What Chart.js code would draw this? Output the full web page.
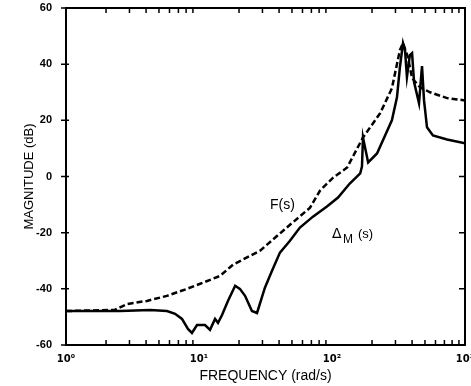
<!DOCTYPE html>
<html>
<head>
<meta charset="utf-8">
<script src="https://cdn.jsdelivr.net/npm/chart.js@4/dist/chart.umd.min.js"></script>
<style>
  html, body { margin: 0; padding: 0; background: #fff; }
  #wrap { width: 471px; height: 386px; }
</style>
</head>
<body>
<div id="wrap"><canvas id="bode"></canvas></div>
<script>
// frequency (rad/s) and magnitude (dB)
const deltaFreq = [1, 2.55, 4.29, 5.74, 6.61, 7.45, 8.26, 8.85, 9.66, 11.1, 12.1, 13.2, 13.9, 14.9,
  16.5, 18.7, 20.3, 22.2, 25.0, 27.3, 31.3, 35.4, 40.6, 48.3, 57.4, 71.9, 91.6, 111, 136, 163,
  168, 171, 187, 218, 282, 308, 324, 342, 354, 366, 385, 400, 414, 451, 475, 492, 518, 574, 733, 1000];
const deltaMag = [-47.9, -47.9, -47.5, -47.9, -48.9, -50.7, -54.3, -55.7, -52.9, -52.9, -54.6, -50.7, -52.1, -49.3,
  -44.3, -38.9, -40, -42.5, -47.9, -48.6, -39.6, -33.6, -27.1, -22.9, -18.2, -14.3, -10.7, -7.5, -2.5, 1.1,
  3.5, 13.9, 5, 8.2, 20, 28.2, 38.9, 47.5, 45, 35.4, 43.2, 43.9, 33.6, 26.1, 39.3, 27.1, 17.5, 14.6, 13.2, 11.8];

const fFreq = [1, 2.33, 2.88, 4.06, 5.74, 8.13, 10.2, 14.4, 18.0, 28.8, 42.9, 68.4, 81.3, 102, 130,
  171, 230, 282, 324, 342, 372, 400, 459, 546, 733, 1000];
const fMag = [-47.9, -47.5, -45.4, -44.3, -42.5, -40, -38.2, -35.4, -31.4, -26.4, -19.3, -11.1, -5, -0.4, 3.2,
  13.9, 22.5, 31.4, 45, 47.5, 42.5, 35, 31.8, 30, 27.9, 27.1];

const xTicks = [1, 10, 100, 1000];
const xTickLabels = ['10⁰', '10¹', '10²', '10³'];
const yTicks = [-60, -40, -20, 0, 20, 40, 60];

const toPoints = (xs, ys) => xs.map((x, i) => ({ x: x, y: ys[i] }));

// box frame, inward minor ticks and the curve labels
const framePlugin = {
  id: 'frame',
  afterDatasetsDraw(chart) {
    const { ctx, chartArea: a, scales } = chart;
    const xs = scales.x, ys = scales.y;
    ctx.save();
    ctx.strokeStyle = '#000';
    ctx.lineWidth = 2;
    ctx.strokeRect(a.left, a.top, a.right - a.left, a.bottom - a.top);

    ctx.lineWidth = 1.5;
    ctx.beginPath();
    for (let d = 1; d < 1000; d *= 10) {
      for (let m = 2; m <= 9; m++) {
        const px = xs.getPixelForValue(d * m);
        ctx.moveTo(px, a.bottom); ctx.lineTo(px, a.bottom - 5);
        ctx.moveTo(px, a.top); ctx.lineTo(px, a.top + 5);
      }
    }
    yTicks.forEach(v => {
      const py = ys.getPixelForValue(v);
      ctx.moveTo(a.left - 5, py); ctx.lineTo(a.left + 3, py);
      ctx.moveTo(a.right, py); ctx.lineTo(a.right - 6, py);
    });
    ctx.stroke();

    ctx.fillStyle = '#000';
    ctx.textBaseline = 'alphabetic';
    ctx.font = '14px "Liberation Sans", Arial, sans-serif';
    ctx.fillText('F(s)', xs.getPixelForValue(34.2), ys.getPixelForValue(-11.4));

    const dx = xs.getPixelForValue(100), dy = ys.getPixelForValue(-21.8);
    ctx.font = '14px "DejaVu Sans", sans-serif';
    ctx.fillText('Δ', dx, dy);
    ctx.font = '12px "Liberation Sans", Arial, sans-serif';
    ctx.fillText('M', dx + 11, dy + 5);
    ctx.font = '13px "Liberation Sans", Arial, sans-serif';
    ctx.fillText('(s)', dx + 26, dy);
    ctx.restore();
  }
};

new Chart(document.getElementById('bode'), {
  type: 'line',
  data: {
    datasets: [
      {
        label: 'ΔM(s)',
        data: toPoints(deltaFreq, deltaMag),
        borderColor: '#000',
        borderWidth: 2.5,
        pointRadius: 0,
        tension: 0
      },
      {
        label: 'F(s)',
        data: toPoints(fFreq, fMag),
        borderColor: '#000',
        borderWidth: 2.5,
        borderDash: [6, 3],
        pointRadius: 0,
        tension: 0
      }
    ]
  },
  options: {
    responsive: true,
    maintainAspectRatio: false,
    animation: false,
    layout: { padding: { left: 22, right: 6, top: 8, bottom: 0 } },
    plugins: { legend: { display: false }, tooltip: { enabled: false } },
    scales: {
      x: {
        type: 'logarithmic',
        min: 1,
        max: 1000,
        grid: { display: false },
        border: { display: false },
        afterBuildTicks: s => { s.ticks = xTicks.map(v => ({ value: v })); },
        afterFit: s => { s.height = 41; s.paddingLeft = 0; s.paddingRight = 0; },
        ticks: {
          autoSkip: false,
          maxRotation: 0,
          padding: 0,
          color: '#000',
          font: { family: '"DejaVu Sans", sans-serif', size: 10, weight: 'bold' },
          callback: (v) => xTickLabels[xTicks.indexOf(v)] ?? ''
        },
        title: {
          display: true,
          text: 'FREQUENCY (rad/s)',
          color: '#000',
          padding: { top: 4, bottom: 1 },
          font: { family: '"Liberation Sans", Arial, sans-serif', size: 14 }
        }
      },
      y: {
        min: -60,
        max: 60,
        grid: { display: false },
        border: { display: false },
        afterFit: s => { s.width = 44; s.paddingTop = 0; s.paddingBottom = 0; },
        ticks: {
          stepSize: 20,
          padding: 6,
          color: '#000',
          font: { family: '"Liberation Sans", Arial, sans-serif', size: 11, weight: 'bold' }
        },
        title: {
          display: true,
          text: 'MAGNITUDE (dB)',
          color: '#000',
          padding: 0,
          font: { family: '"Liberation Sans", Arial, sans-serif', size: 13 }
        }
      }
    }
  },
  plugins: [framePlugin]
});
</script>
</body>
</html>
